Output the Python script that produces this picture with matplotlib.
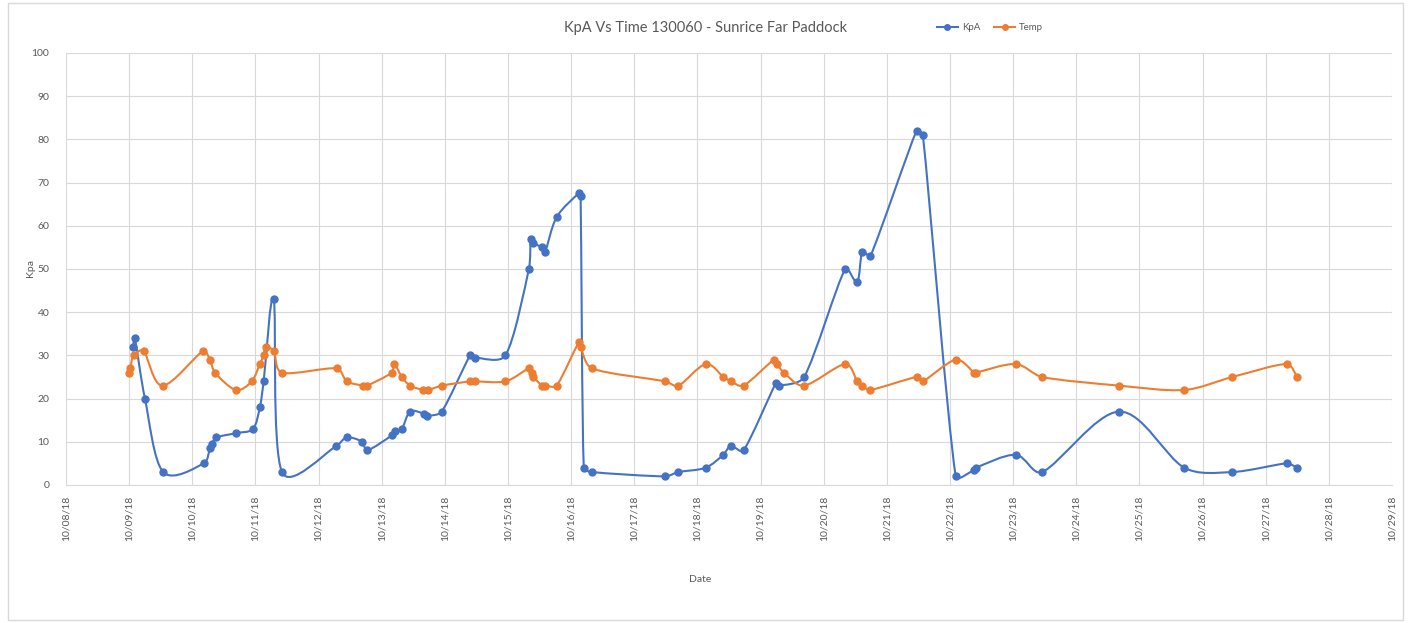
import numpy as np
import pandas as pd
import matplotlib
matplotlib.use("Agg")
import matplotlib.pyplot as plt
import matplotlib.dates as mdates
from matplotlib.path import Path
from matplotlib.patches import PathPatch, Rectangle
from matplotlib.lines import Line2D

plt.rcParams['font.family'] = ['Lato', 'DejaVu Sans']

# Readings: time offsets (days after 10/08/18) and values
start_date = "2018-10-08"

kpa_days = [1.06, 1.09, 1.25, 1.54, 2.18, 2.28, 2.31, 2.38, 2.69, 2.96, 3.07, 3.13,
            3.29, 3.42, 4.28, 4.45, 4.69, 4.77, 5.16, 5.21, 5.32, 5.45, 5.67, 5.72,
            5.95, 6.40, 6.48, 6.96, 7.33, 7.36, 7.40, 7.54, 7.59, 7.77, 8.12, 8.15,
            8.20, 8.33, 9.49, 9.70, 10.13, 10.41, 10.53, 10.73, 11.24, 11.29, 11.69,
            12.34, 12.53, 12.61, 12.74, 13.47, 13.57, 14.09, 14.38, 14.41, 15.04,
            15.46, 16.68, 17.71, 18.47, 19.33, 19.50]
kpa = [32, 34, 20, 3, 5, 8.5, 9.5, 11, 12, 13, 18, 24,
       43, 3, 9, 11, 10, 8, 11.5, 12.5, 13, 17, 16.5, 16,
       17, 30, 29.5, 30, 50, 57, 56, 55, 54, 62, 67.5, 67,
       4, 3, 2, 3, 4, 7, 9, 8, 23.5, 23, 25,
       50, 47, 54, 53, 82, 81, 2, 3.5, 4, 7,
       3, 17, 4, 3, 5, 4]

temp_days = [1.00, 1.02, 1.07, 1.23, 1.53, 2.17, 2.28, 2.36, 2.69, 2.94, 3.07, 3.13,
             3.16, 3.29, 3.42, 4.29, 4.45, 4.71, 4.77, 5.16, 5.20, 5.32, 5.45, 5.66,
             5.74, 5.95, 6.40, 6.48, 6.96, 7.33, 7.38, 7.40, 7.54, 7.59, 7.77, 8.12,
             8.15, 8.33, 9.49, 9.70, 10.13, 10.41, 10.53, 10.73, 11.21, 11.26, 11.37,
             11.69, 12.34, 12.53, 12.61, 12.74, 13.47, 13.57, 14.09, 14.38, 14.41,
             15.04, 15.46, 16.68, 17.71, 18.47, 19.33, 19.50]
temp = [26, 27, 30, 31, 23, 31, 29, 26, 22, 24, 28, 30,
        32, 31, 26, 27, 24, 23, 23, 26, 28, 25, 23, 22,
        22, 23, 24, 24, 24, 27, 26, 25, 23, 23, 23, 33,
        32, 27, 24, 23, 28, 25, 24, 23, 29, 28, 26,
        23, 28, 24, 23, 22, 25, 24, 29, 26, 26,
        28, 25, 23, 22, 25, 28, 25]

x_start = "2018-10-08"
x_end = "2018-10-29"

BLUE = "#4472C4"
ORANGE = "#ED7D31"
GRID = "#D9D9D9"
TEXT = "#595959"


def to_num(days):
    t0 = mdates.date2num(pd.Timestamp(start_date))
    return t0 + np.asarray(days, dtype=float)


def _clamp(vec, limit):
    length = np.hypot(*vec)
    if length > limit and length > 0:
        return vec * (limit / length)
    return vec


def smooth_path(ax, x, y):
    """Smooth cubic Bezier through every point, built in screen space.
    Tangents follow the Catmull-Rom rule (neighbour difference / 6) and are
    clamped to a third of the segment so very short hops do not overshoot."""
    trans = ax.transData
    pts = trans.transform(np.column_stack([x, y]))
    n = len(pts)
    verts = [pts[0]]
    codes = [Path.MOVETO]
    for i in range(n - 1):
        p0 = pts[i - 1] if i > 0 else pts[i]
        p1 = pts[i]
        p2 = pts[i + 1]
        p3 = pts[i + 2] if i + 2 < n else pts[i + 1]
        l12 = np.hypot(*(p2 - p1))
        c1 = p1 + _clamp((p2 - p0) / 6.0, l12 / 3.0)
        c2 = p2 - _clamp((p3 - p1) / 6.0, l12 / 3.0)
        verts += [c1, c2, p2]
        codes += [Path.CURVE4] * 3
    verts = trans.inverted().transform(np.array(verts))
    return Path(verts, codes)


fig = plt.figure(figsize=(14.11, 6.23), dpi=100)
ax = fig.add_axes([66 / 1411, 1 - 485 / 623, (1392 - 66) / 1411, (485 - 53) / 623])
ax.set_xlim(mdates.date2num(pd.Timestamp(x_start)), mdates.date2num(pd.Timestamp(x_end)))
ax.set_ylim(0, 100)

for days, vals, col in [(kpa_days, kpa, BLUE), (temp_days, temp, ORANGE)]:
    xs = to_num(days)
    ax.add_patch(PathPatch(smooth_path(ax, xs, np.asarray(vals, float)),
                           facecolor="none", edgecolor=col, lw=1.5, zorder=3))
    ax.plot(xs, vals, linestyle="none", marker="o", ms=5, color=col, zorder=4)

ax.xaxis.set_major_locator(mdates.DayLocator())
ax.xaxis.set_major_formatter(mdates.DateFormatter("%m/%d/%y"))
ax.set_yticks(np.arange(0, 101, 10))
ax.grid(True, color=GRID, lw=0.8)
ax.set_axisbelow(True)
for s in ["top", "right", "left"]:
    ax.spines[s].set_visible(False)
ax.spines["bottom"].set_color(GRID)
ax.tick_params(axis="both", length=0, colors=TEXT, labelsize=7.5)
ax.tick_params(axis="x", rotation=90, pad=8)
ax.tick_params(axis="y", pad=12)

fig.text(0.5, 1 - 28 / 623, "KpA Vs Time 130060 - Sunrice Far Paddock",
         ha="center", va="center", fontsize=10.5, color=TEXT)
fig.text(30 / 1411, 1 - 268 / 623, "Kpa", rotation=90, ha="center", va="center",
         fontsize=7.5, color=TEXT)
fig.text(700 / 1411, 1 - 580 / 623, "Date", ha="center", va="center",
         fontsize=7.5, color=TEXT)

handles = [Line2D([], [], color=BLUE, marker="o", ms=4, lw=1.5),
           Line2D([], [], color=ORANGE, marker="o", ms=4, lw=1.5)]
fig.legend(handles, ["KpA", "Temp"], loc="center", ncol=2, frameon=False,
           bbox_to_anchor=(990 / 1411, 1 - 28 / 623), fontsize=7, labelcolor=TEXT,
           handlelength=2.2, columnspacing=1.4, handletextpad=0.4)

fig.patches.append(Rectangle((8 / 1411, 3 / 623), 1 - 16 / 1411, 1 - 6 / 623,
                             transform=fig.transFigure, fill=False,
                             edgecolor=GRID, lw=1))

fig.savefig("out.png", dpi=100, facecolor="white")
